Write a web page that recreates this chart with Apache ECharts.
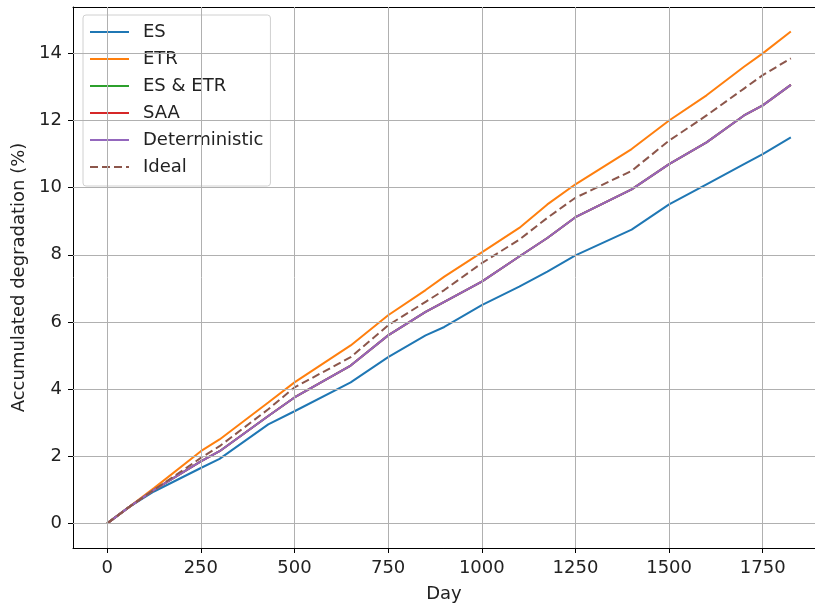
<!DOCTYPE html>
<html>
<head>
<meta charset="utf-8">
<script src="https://cdn.jsdelivr.net/npm/echarts@6/dist/echarts.min.js"></script>
<style>
  html, body { margin: 0; padding: 0; background: #fff; }
  #chart { width: 815px; height: 608px; }
</style>
</head>
<body>
<div id="chart"></div>
<script>
// days sampled along the curves
const days = [0, 60, 125, 250, 300, 430, 500, 650, 750, 850, 900, 1000, 1100, 1175, 1250, 1400, 1500, 1600, 1700, 1750, 1825];

const esValues = [0, 0.5, 0.95, 1.65, 1.92, 2.95, 3.34, 4.2, 4.95, 5.6, 5.85, 6.5, 7.05, 7.5, 7.98, 8.75, 9.5, 10.1, 10.7, 11.0, 11.5];
const etrValues = [0, 0.5, 1.05, 2.15, 2.5, 3.6, 4.2, 5.3, 6.2, 6.95, 7.35, 8.07, 8.8, 9.5, 10.1, 11.15, 12.0, 12.75, 13.6, 14.0, 14.65];
const esEtrValues = [0, 0.5, 1.0, 1.85, 2.15, 3.2, 3.75, 4.7, 5.6, 6.3, 6.6, 7.2, 7.95, 8.5, 9.12, 9.95, 10.7, 11.35, 12.15, 12.45, 13.06];
const saaValues = [0, 0.5, 1.0, 1.85, 2.15, 3.2, 3.75, 4.7, 5.6, 6.3, 6.6, 7.2, 7.95, 8.5, 9.12, 9.95, 10.7, 11.35, 12.15, 12.45, 13.06];
const detValues = [0, 0.5, 1.0, 1.85, 2.15, 3.2, 3.75, 4.7, 5.6, 6.3, 6.6, 7.2, 7.95, 8.5, 9.12, 9.95, 10.7, 11.35, 12.15, 12.45, 13.06];
const idealValues = [0, 0.5, 1.0, 1.95, 2.3, 3.4, 4.05, 4.95, 5.9, 6.6, 6.95, 7.75, 8.45, 9.1, 9.7, 10.5, 11.4, 12.15, 12.95, 13.35, 13.85];

const xTicks = [0, 250, 500, 750, 1000, 1250, 1500, 1750];
const yTicks = [0, 2, 4, 6, 8, 10, 12, 14];

const FONT = "DejaVu Sans";
const TEXT_COLOR = "#222";
const GRID_COLOR = "#b0b0b0";

function pairs(values) {
  return days.map((d, i) => [d, values[i]]);
}

function lineSeries(name, values, color, dashed) {
  return {
    name: name,
    type: "line",
    symbol: "none",
    data: pairs(values),
    lineStyle: {
      width: 2,
      color: color,
      type: dashed ? [8, 4] : "solid",
    },
    itemStyle: { color: color },
  };
}

const chart = echarts.init(document.getElementById("chart"));

chart.setOption({
  animation: false,
  textStyle: { fontFamily: FONT },
  grid: {
    left: 73,
    right: 0,
    top: 7,
    bottom: 58,
  },
  legend: {
    orient: "vertical",
    left: 83,
    top: 15,
    itemWidth: 39,
    itemHeight: 14,
    itemGap: 7,
    padding: [7, 7, 9, 6],
    backgroundColor: "rgba(255,255,255,0.85)",
    borderColor: "#d0d0d0",
    borderWidth: 1,
    borderRadius: 3,
    itemStyle: { opacity: 0 },
    textStyle: {
      fontFamily: FONT,
      fontSize: 18,
      lineHeight: 20,
      color: TEXT_COLOR,
      padding: [0, 0, 0, 9],
    },
    data: ["ES", "ETR", "ES & ETR", "SAA", "Deterministic", "Ideal"],
  },
  xAxis: [
    {
      type: "value",
      min: -91.25,
      max: 1889.5,
      name: "Day",
      nameLocation: "middle",
      nameGap: 37,
      nameTextStyle: { fontFamily: FONT, fontSize: 18, color: TEXT_COLOR },
      axisLine: { show: true, onZero: false, lineStyle: { color: "#000", width: 1 } },
      axisTick: {
        show: true,
        length: 5,
        lineStyle: { color: "#000" },
        customValues: xTicks,
      },
      axisLabel: {
        fontFamily: FONT,
        fontSize: 18,
        color: TEXT_COLOR,
        margin: 11,
        customValues: xTicks,
        formatter: (v) => String(v),
      },
      splitLine: { show: false },
    },
    {
      // top spine only
      type: "value",
      position: "top",
      min: -91.25,
      max: 1889.5,
      axisLine: { show: true, onZero: false, lineStyle: { color: "#000", width: 1 } },
      axisTick: { show: false },
      axisLabel: { show: false },
      splitLine: { show: false },
    },
  ],
  yAxis: {
    type: "value",
    min: -0.7325,
    max: 15.38,
    name: "Accumulated degradation (%)",
    nameLocation: "middle",
    nameGap: 39,
    nameRotate: 90,
    nameTextStyle: { fontFamily: FONT, fontSize: 18, color: TEXT_COLOR },
    axisLine: { show: true, onZero: false, lineStyle: { color: "#000", width: 1 } },
    axisTick: {
      show: true,
      length: 5,
      lineStyle: { color: "#000" },
      customValues: yTicks,
    },
    axisLabel: {
      fontFamily: FONT,
      fontSize: 18,
      color: TEXT_COLOR,
      margin: 11,
      customValues: yTicks,
    },
    splitLine: { show: false },
  },
  series: [
    // grid lines as markLines so they sit under the curves
    {
      type: "line",
      data: [],
      silent: true,
      markLine: {
        silent: true,
        symbol: "none",
        label: { show: false },
        lineStyle: { color: GRID_COLOR, width: 1, type: "solid" },
        data: xTicks.map((v) => ({ xAxis: v })).concat(yTicks.map((v) => ({ yAxis: v }))),
      },
    },
    lineSeries("ES", esValues, "#1f77b4"),
    lineSeries("ETR", etrValues, "#ff7f0e"),
    lineSeries("ES & ETR", esEtrValues, "#2ca02c"),
    lineSeries("SAA", saaValues, "#d62728"),
    lineSeries("Deterministic", detValues, "#9467bd"),
    lineSeries("Ideal", idealValues, "#8c564b", true),
  ],
});
</script>
</body>
</html>
